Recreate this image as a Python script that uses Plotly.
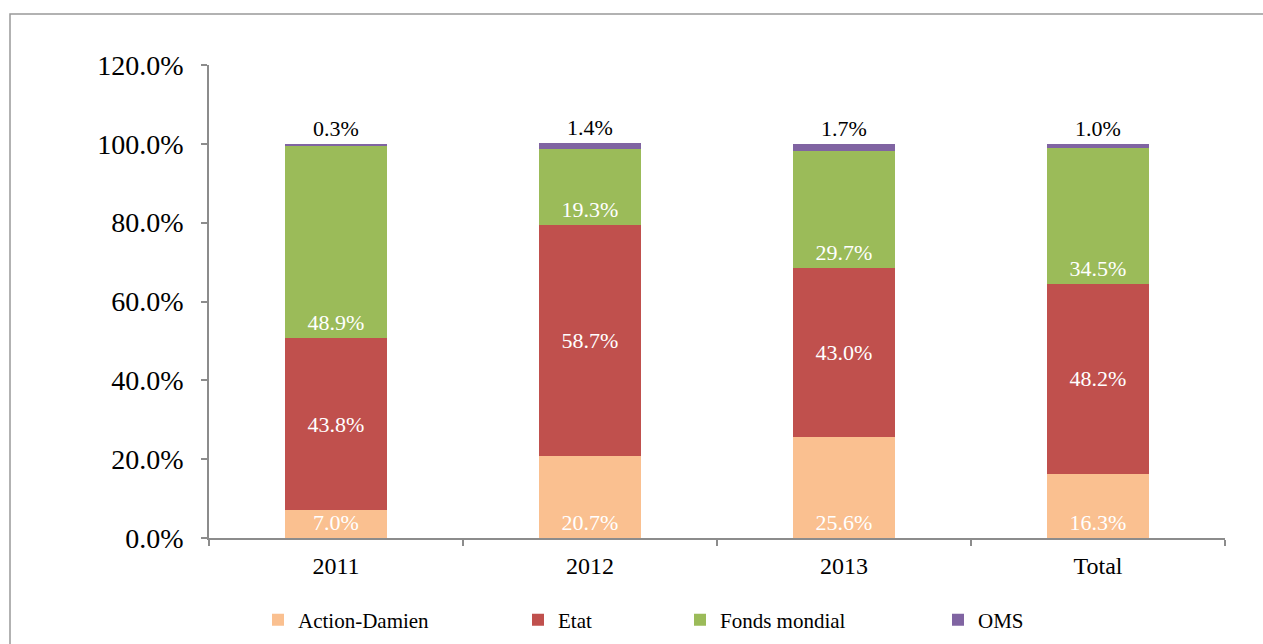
import plotly.graph_objects as go

categories = ["2011", "2012", "2013", "Total"]
series_names = ["Action-Damien", "Etat", "Fonds mondial", "OMS"]
action_damien = [0.070, 0.207, 0.256, 0.163]
etat = [0.438, 0.587, 0.430, 0.482]
fonds_mondial = [0.489, 0.193, 0.297, 0.345]
oms = [0.003, 0.014, 0.017, 0.010]
y_ticks = [0.0, 0.2, 0.4, 0.6, 0.8, 1.0, 1.2]

colors = ["#FAC090", "#C0504D", "#9BBB59", "#8064A2"]
# where each series' data label sits inside its segment (Excel layout)
label_anchor = ["start", "middle", "start", "middle"]
font_family = "Liberation Serif"
axis_color = "#8c8c8c"

# figure geometry (pixels) used to place legends / frame in paper coords
W, H = 1263, 644
L, R, T, B = 209, 38, 65, 106
pw, ph = W - L - R, H - T - B


def px_x(x):
    return (x - L) / pw


def px_y(y):
    return (H - B - y) / ph


fig = go.Figure()

series_values = [action_damien, etat, fonds_mondial, oms]
legend_keys = ["legend", "legend2", "legend3", "legend4"]
legend_text_x = [297, 557, 719, 977]

for name, vals, color, anchor, lkey in zip(
    series_names, series_values, colors, label_anchor, legend_keys
):
    last = name == "OMS"
    fig.add_trace(
        go.Bar(
            x=categories,
            y=vals,
            name=name,
            marker=dict(color=color, line=dict(width=0)),
            texttemplate="%{y:.1%}",
            textposition="outside" if last else "inside",
            insidetextanchor=anchor,
            constraintext="none",
            textfont=dict(
                family=font_family, size=22, color="#000000" if last else "#ffffff"
            ),
            cliponaxis=False,
            legend=lkey,
            hovertemplate=f"{name}<br>%{{x}}: %{{y:.1%}}<extra></extra>",
        )
    )

legend_layouts = {}
for lkey, tx in zip(legend_keys, legend_text_x):
    legend_layouts[lkey] = dict(
        x=px_x(tx - 39),
        xanchor="left",
        y=px_y(620),
        yanchor="middle",
        orientation="h",
        font=dict(family=font_family, size=21, color="#000000"),
        bgcolor="rgba(0,0,0,0)",
        borderwidth=0,
    )

# outer chart frame
shapes = [
    dict(
        type="rect",
        xref="paper",
        yref="paper",
        x0=px_x(10),
        x1=1.2,
        y0=-0.5,
        y1=px_y(14),
        line=dict(color="#999999", width=1.5),
        fillcolor="rgba(0,0,0,0)",
        layer="below",
    )
]

fig.update_layout(
    barmode="stack",
    bargap=0.6,
    width=W,
    height=H,
    margin=dict(l=L, r=R, t=T, b=B, autoexpand=False),
    paper_bgcolor="white",
    plot_bgcolor="white",
    font=dict(family=font_family, color="#000000"),
    showlegend=True,
    shapes=shapes,
    xaxis=dict(
        type="category",
        tickson="boundaries",
        ticks="outside",
        ticklen=6,
        tickwidth=1.5,
        tickcolor=axis_color,
        showline=True,
        linecolor=axis_color,
        linewidth=1.5,
        showgrid=False,
        zeroline=False,
        tickfont=dict(family=font_family, size=24, color="#000000"),
        ticklabelstandoff=5,
    ),
    yaxis=dict(
        range=[0, 1.2],
        tickvals=y_ticks,
        tickformat=".1%",
        ticks="outside",
        ticklen=6,
        tickwidth=1.5,
        tickcolor=axis_color,
        showline=True,
        linecolor=axis_color,
        linewidth=1.5,
        showgrid=False,
        zeroline=False,
        tickfont=dict(family=font_family, size=28, color="#000000"),
        ticklabelstandoff=12,
    ),
    **legend_layouts,
)

fig.write_html(
    "out.html",
    config={"displayModeBar": False},
    post_script="document.body.style.margin = '0';",
)
